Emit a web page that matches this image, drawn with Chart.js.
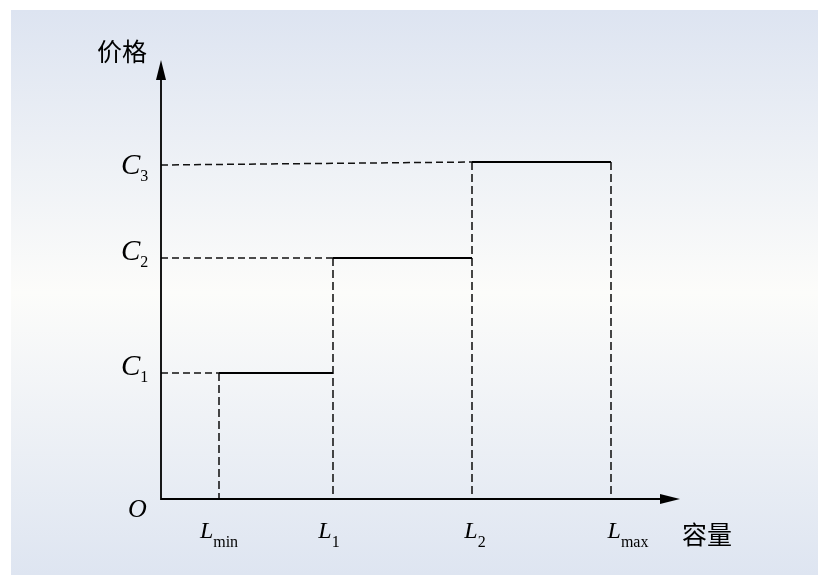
<!DOCTYPE html>
<html>
<head>
<meta charset="utf-8">
<script src="https://cdn.jsdelivr.net/npm/chart.js@4"></script>
<style>
body{margin:0;background:#fff;}
#box{width:828px;height:584px;}
</style>
</head>
<body>
<div id="box"><canvas id="grafico"></canvas></div>
<script>
// capacity points on the x axis (L_min, L_1, L_2, L_max)
var capSubs = ["min", "1", "2", "max"];
var capValues = [58, 172, 311, 450];
// price levels on the y axis (C_1, C_2, C_3)
var priceSubs = ["1", "2", "3"];
var priceValues = [126, 241, 337];
// the C3 guide line starts a bit lower on the y axis
var c3GuideStart = 334;
// axis ends (arrow tips)
var xMax = 519;
var yMax = 439;
var xTitle = "容量";
var yTitle = "价格";
var originLabel = "O";

var datasets = [];
// solid price steps
for (var i = 0; i < priceValues.length; i++) {
    datasets.push({
        data: [{x: capValues[i], y: priceValues[i]}, {x: capValues[i + 1], y: priceValues[i]}],
        borderColor: "#000", borderWidth: 2.2
    });
}
// dashed horizontal guides from the y axis
for (var i = 0; i < priceValues.length; i++) {
    var y0 = (i == priceValues.length - 1) ? c3GuideStart : priceValues[i];
    datasets.push({
        data: [{x: 0, y: y0}, {x: capValues[i], y: priceValues[i]}],
        borderColor: "#111", borderWidth: 1.5, borderDash: [7, 4]
    });
}
datasets.forEach(function (d) {
    d.showLine = true; d.pointRadius = 0; d.clip = false; d.fill = false;
});

// panel background with soft gradient
var sfondo = {
    id: "sfondo",
    beforeDraw: function (chart) {
        var ctx = chart.ctx;
        var g = ctx.createLinearGradient(0, 10, 0, 575);
        g.addColorStop(0, "#dde4f1");
        g.addColorStop(0.5, "#fcfcfa");
        g.addColorStop(1, "#dee5f1");
        ctx.save();
        ctx.fillStyle = g;
        ctx.fillRect(11, 10, 807, 565);
        ctx.restore();
    }
};

// dashed vertical guides: drawn with the scales (same-x lines get dropped by the scatter controller)
var verticali = {
    id: "verticali",
    beforeDatasetsDraw: function (chart) {
        var ctx = chart.ctx;
        var sx = chart.scales.x, sy = chart.scales.y;
        ctx.save();
        ctx.strokeStyle = "#1a1a1a";
        ctx.lineWidth = 1.6;
        ctx.setLineDash([8, 4]);
        for (var i = 0; i < capValues.length; i++) {
            var top = priceValues[Math.min(i, priceValues.length - 1)];
            var px = sx.getPixelForValue(capValues[i]);
            ctx.beginPath();
            ctx.moveTo(px, sy.getPixelForValue(top));
            ctx.lineTo(px, sy.getPixelForValue(0));
            ctx.stroke();
        }
        ctx.restore();
    }
};

// draw "main" in italic with an upright subscript after it
function scriviSub(ctx, main, sub, x, y, size, subSize, subDrop) {
    ctx.font = "italic " + size + "px 'Liberation Serif'";
    ctx.fillText(main, x, y);
    var w = ctx.measureText(main).width;
    ctx.font = subSize + "px 'Liberation Serif'";
    ctx.fillText(sub, x + w, y + subDrop);
}
function larghezzaSub(ctx, main, sub, size, subSize) {
    ctx.font = "italic " + size + "px 'Liberation Serif'";
    var w = ctx.measureText(main).width;
    ctx.font = subSize + "px 'Liberation Serif'";
    return w + ctx.measureText(sub).width;
}

// axes with arrows and all the labels
var assi = {
    id: "assi",
    afterDatasetsDraw: function (chart) {
        var ctx = chart.ctx;
        var sx = chart.scales.x, sy = chart.scales.y;
        var ox = sx.getPixelForValue(0), oy = sy.getPixelForValue(0);
        var xe = sx.getPixelForValue(xMax), ye = sy.getPixelForValue(yMax);
        ctx.save();
        ctx.strokeStyle = "#000";
        ctx.fillStyle = "#000";
        ctx.lineWidth = 1.8;
        ctx.beginPath();
        ctx.moveTo(ox, ye + 15);
        ctx.lineTo(ox, oy);
        ctx.lineTo(xe - 15, oy);
        ctx.stroke();
        // arrow heads
        ctx.beginPath();
        ctx.moveTo(ox, ye);
        ctx.lineTo(ox - 5, ye + 20);
        ctx.lineTo(ox + 5, ye + 20);
        ctx.closePath();
        ctx.fill();
        ctx.beginPath();
        ctx.moveTo(xe, oy);
        ctx.lineTo(xe - 20, oy - 5);
        ctx.lineTo(xe - 20, oy + 5);
        ctx.closePath();
        ctx.fill();

        ctx.textBaseline = "alphabetic";
        ctx.textAlign = "left";
        // price labels
        var yNudge = [0, 0, 10];
        for (var i = 0; i < priceValues.length; i++) {
            var py = sy.getPixelForValue(priceValues[i]);
            scriviSub(ctx, "C", priceSubs[i], ox - 40, py + 2 + yNudge[i], 29, 16, 7);
        }
        // capacity labels
        var xNudge = [0, -4, 3, 17];
        for (var i = 0; i < capValues.length; i++) {
            var px = sx.getPixelForValue(capValues[i]);
            var w = larghezzaSub(ctx, "L", capSubs[i], 24, 16);
            scriviSub(ctx, "L", capSubs[i], px - w / 2 + xNudge[i], oy + 39, 24, 16, 9);
        }
        ctx.font = "italic 26px 'Liberation Serif'";
        ctx.fillText(originLabel, ox - 33, oy + 18);

        ctx.font = "25px 'Noto Sans CJK SC'";
        ctx.textBaseline = "middle";
        ctx.fillText(yTitle, ox - 64, ye - 9);
        ctx.fillText(xTitle, xe + 2, oy + 35);
        ctx.restore();
    }
};

new Chart(document.getElementById("grafico").getContext("2d"), {
    type: "scatter",
    data: {datasets: datasets},
    options: {
        responsive: true,
        maintainAspectRatio: false,
        animation: false,
        layout: {padding: {left: 161, right: 148, top: 60, bottom: 85}},
        scales: {
            x: {type: "linear", min: 0, max: xMax, display: false},
            y: {type: "linear", min: 0, max: yMax, display: false}
        },
        plugins: {legend: {display: false}, tooltip: {enabled: false}}
    },
    plugins: [sfondo, verticali, assi]
});
</script>
</body>
</html>
